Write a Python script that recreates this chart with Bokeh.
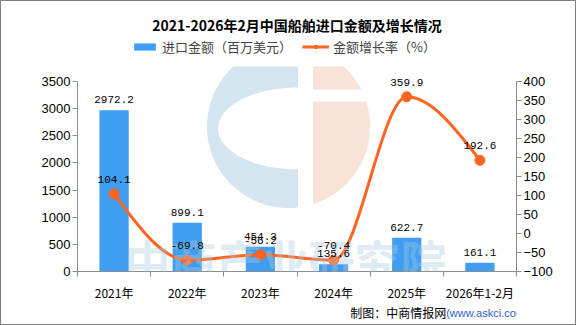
import math
from bokeh.plotting import figure
from bokeh.layouts import column
from bokeh.models import (Range1d, LinearAxis, FixedTicker, Label, Legend, LegendItem,
                          ColumnDataSource, LabelSet)
from bokeh.core.properties import value
from bokeh.embed import file_html
from bokeh.resources import INLINE

categories = ["2021年", "2022年", "2023年", "2024年", "2025年", "2026年1-2月"]
import_value = [2972.2, 899.1, 454.3, 135.6, 622.7, 161.1]
growth_rate = [104.1, -69.8, -56.2, -70.4, 359.9, 192.6]
left_ticks = [0, 500, 1000, 1500, 2000, 2500, 3000, 3500]
right_ticks = [-100, -50, 0, 50, 100, 150, 200, 250, 300, 350, 400]
title_text = "2021-2026年2月中国船舶进口金额及增长情况"
series_names = ["进口金额（百万美元）", "金额增长率（%）"]

BAR = "#3F9EF1"
LINE = "#FF6420"
AXIS = "#8C8C8C"
NUMF = "Liberation Sans"
CJK = "Noto Sans CJK SC"
MONO = "Liberation Mono"
W = 574


def blank(h):
    f = figure(width=W, height=h, x_range=Range1d(0, W), y_range=Range1d(0, h),
               output_backend="svg", toolbar_location=None, min_border=0)
    f.axis.visible = False
    f.grid.visible = False
    f.outline_line_color = None
    f.background_fill_color = "white"
    f.border_fill_color = "white"
    return f


# ---------- header: title + legend ----------
TOP_H = 65
top = blank(TOP_H)
top.add_layout(Label(x=287, y=42, text=title_text, text_align="center",
                     text_baseline="middle", text_font=CJK, text_font_size="14px",
                     text_font_style="bold", text_color="black"))
lb = top.vbar(x=[-50], top=[1], width=1, fill_color=BAR, line_color=None)
ll = top.line(x=[-60, -50], y=[1, 1], line_color=LINE, line_width=3)
lp = top.scatter(x=[-50], y=[1], size=9, fill_color=LINE, line_color=LINE)
for item, loc in [(LegendItem(label=series_names[0], renderers=[lb]), (54, 10)),
                  (LegendItem(label=series_names[1], renderers=[ll, lp]), (225, 10))]:
    top.add_layout(Legend(items=[item], orientation="horizontal", location=loc,
                          label_text_font=CJK, label_text_font_size="13px",
                          glyph_width=27, glyph_height=9, label_standoff=4,
                          padding=0, margin=0, border_line_color=None,
                          background_fill_alpha=0))

# ---------- main chart ----------
n = len(categories)
centers = [i + 0.5 for i in range(n)]
EXTRA = 15          # px of headroom above the top tick (for labels)
AX_H = 190          # px between 0 and the top tick
FRAME_H = AX_H + EXTRA
BOT_B = 33
FRAME_W = W - 76 - 59
ymax_l = left_ticks[-1] + EXTRA * (left_ticks[-1] - left_ticks[0]) / AX_H
ymax_r = right_ticks[-1] + EXTRA * (right_ticks[-1] - right_ticks[0]) / AX_H

p = figure(width=W, height=FRAME_H + BOT_B, x_range=Range1d(0, n),
           y_range=Range1d(left_ticks[0], ymax_l),
           output_backend="svg", toolbar_location=None,
           min_border_left=76, min_border_right=59, min_border_top=0, min_border_bottom=BOT_B)
p.extra_y_ranges = {"rate": Range1d(right_ticks[0], ymax_r)}
p.xgrid.visible = False
p.ygrid.visible = False
p.outline_line_color = None
p.background_fill_color = "white"
p.border_fill_color = "white"


# ---- faint logo watermark (decoration), geometry in frame pixels ----
def px2data(px, py_from_axis):
    return px * n / FRAME_W, py_from_axis * left_ticks[-1] / AX_H


LC = (211.0, 145.0)   # logo centre: px right of frame left, px above x axis
LR = 81.5


def circle_part(xmin, xmax, steps=120):
    xs, ys = [], []
    for k in range(steps + 1):
        a = 2 * math.pi * k / steps
        x = LC[0] + LR * math.cos(a)
        y = LC[1] + LR * math.sin(a)
        xs.append(min(max(x, xmin), xmax)); ys.append(y)
    return xs, ys


bx, by = circle_part(-1e9, LC[0] + 9.5)
ox, oy = circle_part(LC[0] + 24.5, 1e9)
ex, ey = [], []
for k in range(61):
    a = math.pi / 2 + math.pi * k / 60
    ex.append(LC[0] + 9.5 + 80 * math.cos(a)); ey.append(LC[1] - 2 + 41 * math.sin(a))
for xs, ys, col in [(bx, by, "#D4E5EF"), (ox, oy, "#FAE2D7"), (ex, ey, "white")]:
    d = [px2data(a, b) for a, b in zip(xs, ys)]
    p.patch([q[0] for q in d], [q[1] for q in d], fill_color=col, line_color=None)
g0 = px2data(LC[0] + 24.5, LC[1] + 25)
g1 = px2data(LC[0] + 90, LC[1] + 37)
p.quad(left=[g0[0]], right=[g1[0]], bottom=[g0[1]], top=[g1[1]],
       fill_color="white", line_color=None)

p.yaxis.ticker = FixedTicker(ticks=left_ticks)
p.yaxis.bounds = (left_ticks[0], left_ticks[-1])
raxis = LinearAxis(y_range_name="rate", ticker=FixedTicker(ticks=right_ticks),
                   bounds=(right_ticks[0], right_ticks[-1]))
p.add_layout(raxis, "right")
for ax in [p.yaxis[0], raxis]:
    ax.axis_line_color = AXIS
    ax.major_tick_line_color = AXIS
    ax.major_tick_out = 5
    ax.major_tick_in = 0
    ax.minor_tick_line_color = None
    ax.major_label_text_font = NUMF
    ax.major_label_text_font_size = "13px"
    ax.major_label_text_color = "black"
    ax.major_label_standoff = 2

xa = p.xaxis[0]
xa.ticker = FixedTicker(ticks=centers, minor_ticks=list(range(n + 1)))
xa.major_label_overrides = {c: lab for c, lab in zip(centers, categories)}
xa.major_tick_line_color = None
xa.minor_tick_line_color = AXIS
xa.minor_tick_out = 5
xa.minor_tick_in = 0
xa.axis_line_color = AXIS
xa.major_label_text_font = CJK
xa.major_label_text_font_size = "12px"
xa.major_label_text_color = "black"
xa.major_label_standoff = 6

src = ColumnDataSource(dict(x=centers, top=import_value,
                            lab=[f"{v:.1f}" for v in import_value],
                            r=growth_rate, rlab=[f"{v:.1f}" for v in growth_rate]))
p.vbar(x="x", top="top", width=0.4, source=src, fill_color=BAR, line_color=None)


# smooth monotone curve through the data points (bezier segments)
def _slope3(x0, y0, x1, y1, x2, y2):
    h0, h1 = x1 - x0, x2 - x1
    s0, s1 = (y1 - y0) / h0, (y2 - y1) / h1
    pp = (s0 * h1 + s1 * h0) / (h0 + h1)
    sg = lambda v: (v > 0) - (v < 0)
    return (sg(s0) + sg(s1)) * min(abs(s0), abs(s1), 0.5 * abs(pp))


tan = [0.0] * n
for i in range(1, n - 1):
    tan[i] = _slope3(centers[i - 1], growth_rate[i - 1], centers[i], growth_rate[i],
                     centers[i + 1], growth_rate[i + 1])
h = centers[1] - centers[0]
tan[0] = (3 * (growth_rate[1] - growth_rate[0]) / h - tan[1]) / 2
h = centers[-1] - centers[-2]
tan[-1] = (3 * (growth_rate[-1] - growth_rate[-2]) / h - tan[-2]) / 2
bz = dict(x0=[], y0=[], x1=[], y1=[], cx0=[], cy0=[], cx1=[], cy1=[])
for i in range(n - 1):
    dx = (centers[i + 1] - centers[i]) / 3
    bz["x0"].append(centers[i]); bz["y0"].append(growth_rate[i])
    bz["x1"].append(centers[i + 1]); bz["y1"].append(growth_rate[i + 1])
    bz["cx0"].append(centers[i] + dx); bz["cy0"].append(growth_rate[i] + dx * tan[i])
    bz["cx1"].append(centers[i + 1] - dx); bz["cy1"].append(growth_rate[i + 1] - dx * tan[i + 1])
p.bezier(source=ColumnDataSource(bz), x0="x0", y0="y0", x1="x1", y1="y1",
         cx0="cx0", cy0="cy0", cx1="cx1", cy1="cy1",
         line_color=LINE, line_width=3, y_range_name="rate")
p.scatter(x="x", y="r", source=src, size=10, fill_color=LINE, line_color=LINE,
          y_range_name="rate")

# text watermark
wx, wy = px2data(208, 13)
p.add_layout(Label(x=wx, y=wy, text="中商产业研究院", text_align="center",
                   text_baseline="middle", text_font=CJK, text_font_size="46px",
                   text_color="#A9CBE0", text_alpha=0.4, text_font_style="bold"))

p.add_layout(LabelSet(x="x", y="top", text="lab", source=src, y_offset=7,
                      text_align="center", text_baseline="bottom",
                      text_font=value(MONO), text_font_size=value("11px"),
                      text_color=value("black")))
p.add_layout(LabelSet(x="x", y="r", text="rlab", source=src, y_offset=11,
                      text_align="center", text_baseline="bottom", y_range_name="rate",
                      text_font=value(MONO), text_font_size=value("11px"),
                      text_color=value("black")))

# ---------- footer: source note ----------
BOT_H = 323 - TOP_H - (FRAME_H + BOT_B)
bot = blank(BOT_H)
bot.add_layout(Label(x=482, y=BOT_H - 8, text="制图：中商情报网", text_align="right",
                     text_baseline="middle", text_font=CJK, text_font_size="12px",
                     text_color="black"))
bot.add_layout(Label(x=482, y=BOT_H - 8, text="(www.askci.com)", text_align="left",
                     text_baseline="middle", text_font=NUMF, text_font_size="11px",
                     text_color="#2F5BD8"))

layout = column(top, p, bot, spacing=0)
layout.styles = {"border": "1px solid #7F7F7F"}

open("out.html", "w").write(file_html(layout, INLINE))
